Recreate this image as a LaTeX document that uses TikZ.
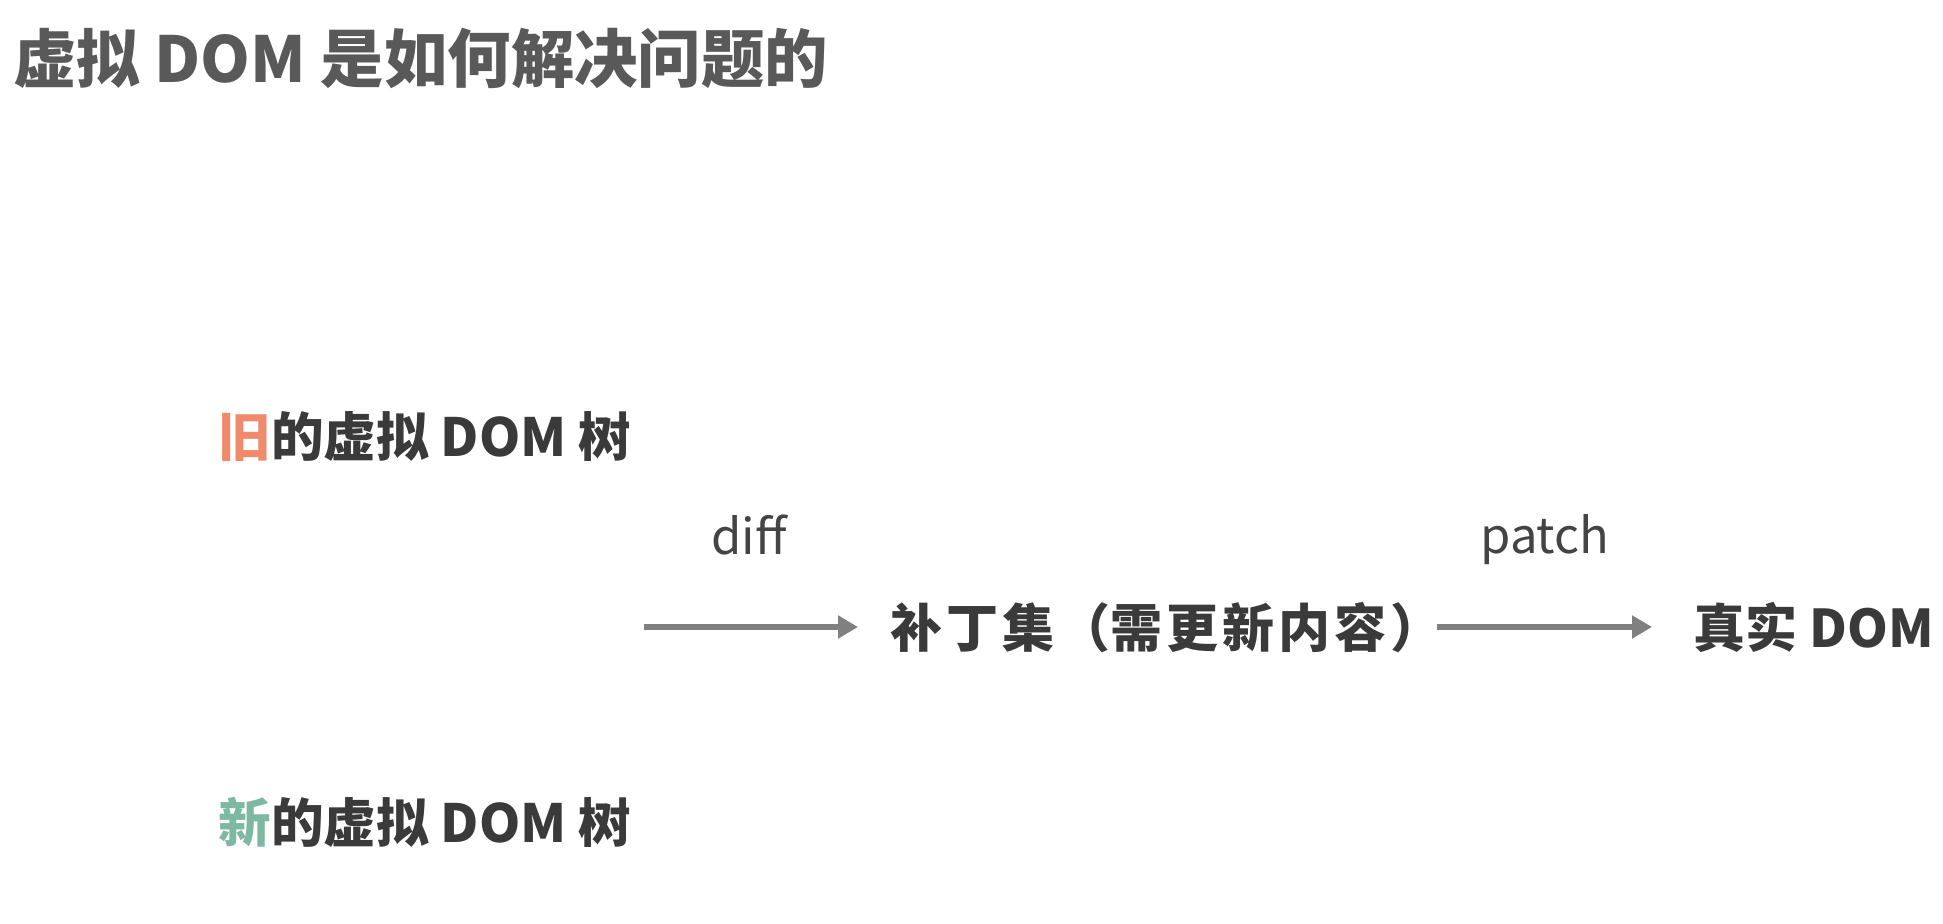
\documentclass[tikz,border=0pt]{standalone}
\usepackage{fontspec}
\setmainfont{Noto Sans CJK SC}
\usetikzlibrary{arrows.meta}
\definecolor{titlegray}{HTML}{595959}
\definecolor{textdark}{HTML}{3A3A3A}
\definecolor{labelgray}{HTML}{444444}
\definecolor{arrowgray}{HTML}{808080}
\definecolor{oldorange}{HTML}{F08A6C}
\definecolor{newgreen}{HTML}{7DB9A2}
\newcommand{\gp}{\hspace{2pt}}
\tikzset{
  titletext/.style={anchor=west,inner sep=0pt,text=titlegray,font=\bfseries\fontsize{31.7pt}{38pt}\selectfont},
  treetext/.style={anchor=west,inner sep=0pt,text=textdark,font=\bfseries\fontsize{26.3pt}{31pt}\selectfont},
  flowtext/.style={anchor=west,inner sep=0pt,text=textdark,font=\bfseries\fontsize{26pt}{31pt}\selectfont},
  optext/.style={anchor=base west,inner sep=0pt,text=labelgray,font=\fontsize{24.5pt}{29pt}\selectfont},
  arr/.style={draw=arrowgray,line width=3pt,-{Triangle[length=10pt,width=11pt]}},
}
\begin{document}
\begin{tikzpicture}[x=0.5pt,y=-0.5pt]
\useasboundingbox (0,0) rectangle (1943,924);
\node[titletext] (title) at (13,58) {虚拟 DOM 是如何解决问题的};
\node[treetext] (old) at (218,437) {\textcolor{oldorange}{旧}的虚拟 DOM 树};
\node[treetext] (new) at (218,822) {\textcolor{newgreen}{新}的虚拟 DOM 树};
\node[flowtext] (ps) at (890,628) {补\gp 丁\gp 集\gp （需\gp 更\gp 新\gp 内\gp 容\gp ）};
\node[flowtext] (real) at (1693,627) {真实 DOM};
\node[optext] (diff) at (711,555) {dif{}f};
\node[optext] (patch) at (1480,553) {patch};
\coordinate (a0) at (644,627);
\coordinate (a1) at (858,627);
\coordinate (b0) at (1437,627);
\coordinate (b1) at (1652,627);
\draw[arr] (a0) -- (a1);
\draw[arr] (b0) -- (b1);
\end{tikzpicture}
\end{document}
